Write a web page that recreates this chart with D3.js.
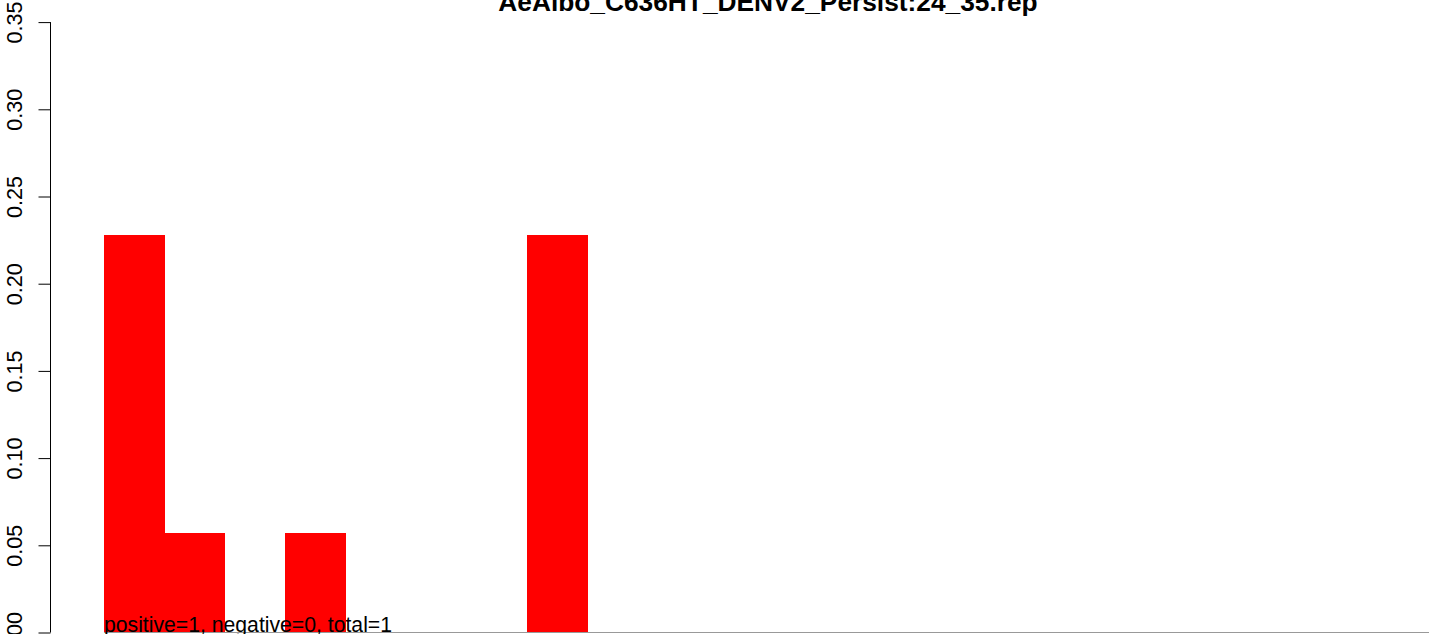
<!DOCTYPE html>
<html><head><meta charset="utf-8">
<script src="https://cdn.jsdelivr.net/npm/d3@7"></script>
<style>body{margin:0;background:#fff}svg{display:block}text{font-family:"Liberation Sans",Arial,sans-serif}</style>
</head><body>
<script>
const title = "AeAlbo_C636HT_DENV2_Persist:24_35.rep";
const note = "positive=1, negative=0, total=1";
const bins = d3.range(1, 23);
const values = [0.228, 0.057, 0, 0.057, 0, 0, 0, 0.228, 0, 0, 0, 0, 0, 0, 0, 0, 0, 0, 0, 0, 0, 0];
const yTicks = [0, 0.05, 0.10, 0.15, 0.20, 0.25, 0.30, 0.35];

const W = 1429, H = 634;
const svg = d3.select("body").append("svg").attr("width", W).attr("height", H);
const y = d3.scaleLinear().domain([0, 0.35]).range([632.5, 22.1]);
const x = d3.scaleBand().domain(bins).range([104, 104 + 22 * 60.4]).padding(0);

svg.append("g").attr("shape-rendering", "crispEdges").selectAll("rect").data(bins).join("rect")
  .attr("x", d => x(d)).attr("width", x.bandwidth() + 0.3)
  .attr("y", (d, i) => y(values[i])).attr("height", (d, i) => y(0) - y(values[i]))
  .attr("fill", "#ff0000");

svg.append("line").attr("x1", x.range()[0]).attr("x2", W).attr("y1", y(0)).attr("y2", y(0))
  .attr("stroke", "#999").attr("stroke-width", 1);

const ax = svg.append("g").attr("transform", "translate(50.5,0)")
  .call(d3.axisLeft(y).tickValues(yTicks).tickFormat(d3.format(".2f")).tickSize(12).tickPadding(0));
ax.select(".domain").attr("d", `M0,${y(0.35)}V${y(0)}`).attr("stroke", "#000");
ax.selectAll(".tick line").attr("stroke", "#000");
ax.selectAll(".tick text").attr("font-size", 21.6).attr("fill", "#000")
  .attr("transform", "rotate(-90)").attr("x", 0).attr("y", -28.5)
  .attr("text-anchor", "middle").attr("dy", 0);
ax.attr("font-family", null);

svg.append("text").attr("x", 768).attr("y", 11).attr("text-anchor", "middle")
  .attr("font-size", 26.3).attr("font-weight", "bold").text(title);

svg.append("text").attr("x", 104).attr("y", 632).attr("font-size", 21.2).text(note);
</script>
</body></html>
